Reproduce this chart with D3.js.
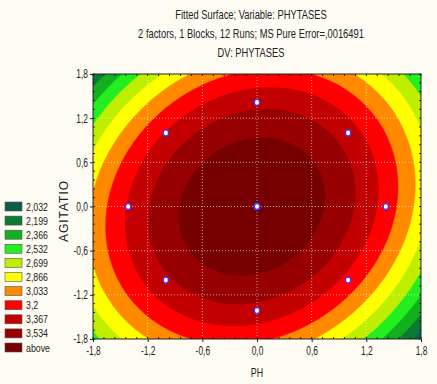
<!DOCTYPE html>
<html>
<head>
<meta charset="utf-8">
<script src="https://cdn.jsdelivr.net/npm/d3@7"></script>
<style>
  body { margin: 0; background: #fefcf2; }
  text { font-family: "Liberation Sans", Arial, sans-serif; fill: #222; }
</style>
</head>
<body>
<div id="chart"></div>
<script>
// contour levels (legend upper bounds) and legend labels
var levels = [2.032, 2.199, 2.366, 2.532, 2.699, 2.866, 3.033, 3.2, 3.367, 3.534]
var legendLabels = ["2,032", "2,199", "2,366", "2,532", "2,699", "2,866", "3,033", "3,2", "3,367", "3,534", "above"]
var bandColors = ["#0b5c48", "#0c7a34", "#12b01e", "#22ee22", "#bfef00", "#ffff00", "#ff8a00", "#ff0000", "#c20000", "#960000", "#760000"]

var coef = [3.70, -0.03, 0.003, -0.265, -0.195, 0.065]

// design runs (coded units)
var runsPH = [-1, 1, -1, 1, -1.414, 1.414, 0, 0, 0, 0, 0, 0]
var runsAG = [-1, -1, 1, 1, 0, 0, -1.414, 1.414, 0, 0, 0, 0]

var tickValues = [-1.8, -1.2, -0.6, 0, 0.6, 1.2, 1.8]
var titleLines = ["Fitted Surface; Variable: PHYTASES", "2 factors, 1 Blocks, 12 Runs; MS Pure Error=,0016491", "DV: PHYTASES"]

var W = 437, H = 384
var plot = { left: 93, right: 421, top: 74, bottom: 339 }
var narrow = 0.7   // squeeze regular Liberation Sans into an Arial Narrow look

var svg = d3.select("#chart").append("svg")
    .attr("width", W)
    .attr("height", H)

var x = d3.scaleLinear().domain([-1.8, 1.8]).range([plot.left, plot.right])
var y = d3.scaleLinear().domain([-1.8, 1.8]).range([plot.bottom, plot.top])

function surface(a, b) {
    return coef[0] + coef[1] * a + coef[2] * b + coef[3] * a * a + coef[4] * b * b + coef[5] * a * b
}

// sample the surface on a grid
var nx = 220, ny = 180
var values = new Array(nx * ny)
for (var j = 0; j < ny; j++) {
    for (var i = 0; i < nx; i++) {
        var a = -1.8 + (i + 0.5) * 3.6 / nx
        var b = 1.8 - (j + 0.5) * 3.6 / ny
        values[j * nx + i] = surface(a, b)
    }
}

var thresholds = [-10].concat(levels)
var contours = d3.contours().size([nx, ny]).thresholds(thresholds)(values)

var proj = d3.geoTransform({
    point: function (gx, gy) {
        this.stream.point(x(-1.8 + gx * 3.6 / nx), y(1.8 - gy * 3.6 / ny))
    }
})

svg.append("clipPath").attr("id", "clip")
    .append("rect")
    .attr("x", plot.left).attr("y", plot.top)
    .attr("width", plot.right - plot.left).attr("height", plot.bottom - plot.top)

var area = svg.append("g").attr("clip-path", "url(#clip)")

area.selectAll("path")
    .data(contours)
    .join("path")
    .attr("d", d3.geoPath(proj))
    .attr("fill", function (d, i) { return bandColors[i] })
    .attr("stroke", function (d, i) { return bandColors[i] })
    .attr("stroke-width", 0.5)

// dotted grid
var grid = svg.append("g")
    .attr("stroke", "#fff")
    .attr("stroke-opacity", 0.6)
    .attr("stroke-dasharray", "1,2")
grid.selectAll(".gx")
    .data(tickValues.slice(1, -1))
    .join("line")
    .attr("x1", function (d) { return x(d) }).attr("x2", function (d) { return x(d) })
    .attr("y1", plot.top).attr("y2", plot.bottom)
grid.selectAll(".gy")
    .data(tickValues.slice(1, -1))
    .join("line")
    .attr("class", "gy")
    .attr("y1", function (d) { return y(d) }).attr("y2", function (d) { return y(d) })
    .attr("x1", plot.left).attr("x2", plot.right)

// frame + minor ticks
svg.append("rect")
    .attr("x", plot.left).attr("y", plot.top)
    .attr("width", plot.right - plot.left).attr("height", plot.bottom - plot.top)
    .attr("fill", "none").attr("stroke", "#222").attr("stroke-width", 1)

var minor = d3.range(-1.8, 1.8001, 0.12)
var mt = svg.append("g").attr("stroke", "#222").attr("stroke-width", 1)
minor.forEach(function (v) {
    mt.append("line").attr("x1", x(v)).attr("x2", x(v)).attr("y1", plot.bottom).attr("y2", plot.bottom - 2)
    mt.append("line").attr("x1", x(v)).attr("x2", x(v)).attr("y1", plot.top).attr("y2", plot.top + 2)
    mt.append("line").attr("y1", y(v)).attr("y2", y(v)).attr("x1", plot.left).attr("x2", plot.left + 2)
    mt.append("line").attr("y1", y(v)).attr("y2", y(v)).attr("x1", plot.right).attr("x2", plot.right - 2)
})

var fmt = function (d) { return d3.format(".1f")(d).replace(".", ",").replace("−", "-") }

var xAxis = svg.append("g")
    .attr("transform", "translate(0," + plot.bottom + ")")
    .call(d3.axisBottom(x).tickValues(tickValues).tickFormat(fmt).tickSize(3).tickPadding(4))
var yAxis = svg.append("g")
    .attr("transform", "translate(" + plot.left + ",0)")
    .call(d3.axisLeft(y).tickValues(tickValues).tickFormat(fmt).tickSize(3).tickPadding(3))

;[xAxis, yAxis].forEach(function (g) {
    g.select(".domain").remove()
    g.selectAll("text").style("font-size", "12px").attr("fill", "#222")
        .style("font-family", "'Liberation Sans', Arial, sans-serif")
        .attr("transform", "scale(" + narrow + ",1)")
    g.selectAll("line").attr("stroke", "#222")
})
yAxis.selectAll("text").attr("x", -5 / narrow)

// design points
svg.append("g")
    .selectAll("ellipse")
    .data(runsPH)
    .join("ellipse")
    .attr("cx", function (d) { return x(d) })
    .attr("cy", function (d, i) { return y(runsAG[i]) })
    .attr("rx", 2.6).attr("ry", 3)
    .attr("fill", "#fff")
    .attr("stroke", "#3a3aff")
    .attr("stroke-width", 1.3)

// titles
svg.append("g")
    .selectAll("text")
    .data(titleLines)
    .join("text")
    .attr("transform", function (d, i) { return "translate(251," + (19 + i * 19) + ") scale(0.78,1)" })
    .attr("text-anchor", "middle")
    .style("font-size", "12px")
    .text(function (d) { return d })

svg.append("text")
    .attr("transform", "translate(257,377) scale(0.74,1)")
    .attr("text-anchor", "middle")
    .style("font-size", "12px")
    .text("PH")

svg.append("text")
    .attr("transform", "translate(68,211) rotate(-90)")
    .attr("text-anchor", "middle")
    .style("font-size", "12px")
    .style("letter-spacing", "1px")
    .text("AGITATIO")

// legend
var leg = svg.append("g")
    .selectAll("g")
    .data(legendLabels)
    .join("g")
    .attr("transform", function (d, i) { return "translate(5," + (202 + i * 14.1) + ")" })
leg.append("rect")
    .attr("width", 17).attr("height", 9)
    .attr("fill", function (d, i) { return bandColors[i] })
    .attr("stroke", "#555").attr("stroke-width", 0.6)
leg.append("text")
    .attr("transform", "translate(21,8.5) scale(0.8,1)")
    .style("font-size", "11px")
    .text(function (d) { return d })
</script>
</body>
</html>
